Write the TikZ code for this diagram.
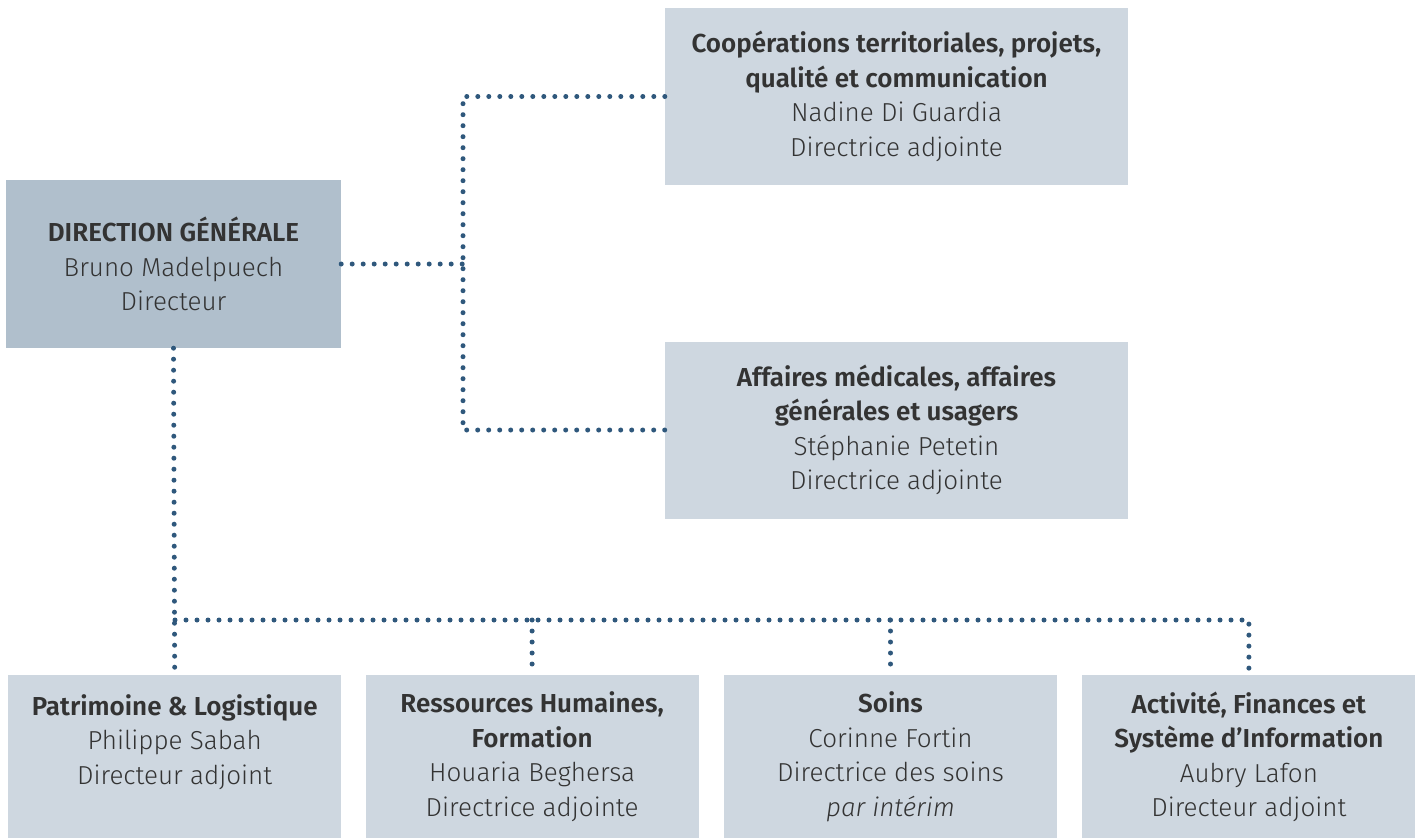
\documentclass[tikz,border=0pt]{standalone}
\usepackage{fontspec}
\setmainfont{Fira Sans Light}[BoldFont={Fira Sans SemiBold}, ItalicFont={Fira Sans Light Italic}]
\usepackage{xcolor}
\usetikzlibrary{positioning}
\definecolor{dgfill}{HTML}{B0BFCC}
\definecolor{boxfill}{HTML}{CED7E0}
\definecolor{dotblue}{HTML}{2F587C}
\definecolor{txtgray}{HTML}{333333}

\begin{document}
\begin{tikzpicture}[
        x=1pt, y=-1pt,
        every node/.style={font=\fontsize{26}{34.5}\selectfont, text=txtgray},
        direction/.style={rectangle, fill=dgfill, minimum width=335pt, minimum height=168pt, align=center, inner sep=0pt},
        adjoint/.style={rectangle, fill=boxfill, minimum width=463pt, minimum height=177pt, align=center, inner sep=0pt},
        pole/.style={rectangle, fill=boxfill, minimum width=333pt, minimum height=163pt, align=center, inner sep=0pt, anchor=north west},
        dotline/.style={draw=dotblue, line width=5pt, line cap=round, dash pattern=on 0pt off 11pt}
    ]
        \useasboundingbox (0,0) rectangle (1415,838);

        % Direction generale
        \node[direction] (dg) at (173.5,264) {\textbf{DIRECTION GÉNÉRALE}\\Bruno Madelpuech\\Directeur};

        % Directions adjointes
        \node[adjoint] (coop) at (896.5,96.5) {\textbf{Coopérations territoriales, projets,}\\\textbf{qualité et communication}\\Nadine Di Guardia\\Directrice adjointe};
        \node[adjoint] (aff) at (896.5,430) {\textbf{Affaires médicales, affaires}\\\textbf{générales et usagers}\\Stéphanie Petetin\\Directrice adjointe};

        % Poles
        \node[pole] (pat) at (8,675) {\textbf{Patrimoine \& Logistique}\\Philippe Sabah\\Directeur adjoint\\~};
        \node[pole, right=24pt of pat.north east, anchor=north west] (rh) {\textbf{Ressources Humaines,}\\\textbf{Formation}\\Houaria Beghersa\\Directrice adjointe};
        \node[pole, right=25pt of rh.north east, anchor=north west] (soins) {\textbf{Soins}\\Corinne Fortin\\Directrice des soins\\\textit{par intérim}};
        \node[pole, right=25pt of soins.north east, anchor=north west] (act) {\textbf{Activité, Finances et}\\\textbf{Système d’Information}\\Aubry Lafon\\Directeur adjoint};

        % Liaisons
        \coordinate (fork) at (463,264);
        \coordinate (bus) at (175,620);
        \draw[dotline] (dg.east) -- (fork);
        \draw[dotline] (coop.west) -| (fork) |- (aff.west);
        \draw[dotline] (dg.south) -- (pat.north);
        \draw[dotline] (bus) -| (act.north);
        \draw[dotline] (rh.north |- bus) -- (rh.north);
        \draw[dotline] (soins.north |- bus) -- (soins.north);

    \end{tikzpicture}
\end{document}
